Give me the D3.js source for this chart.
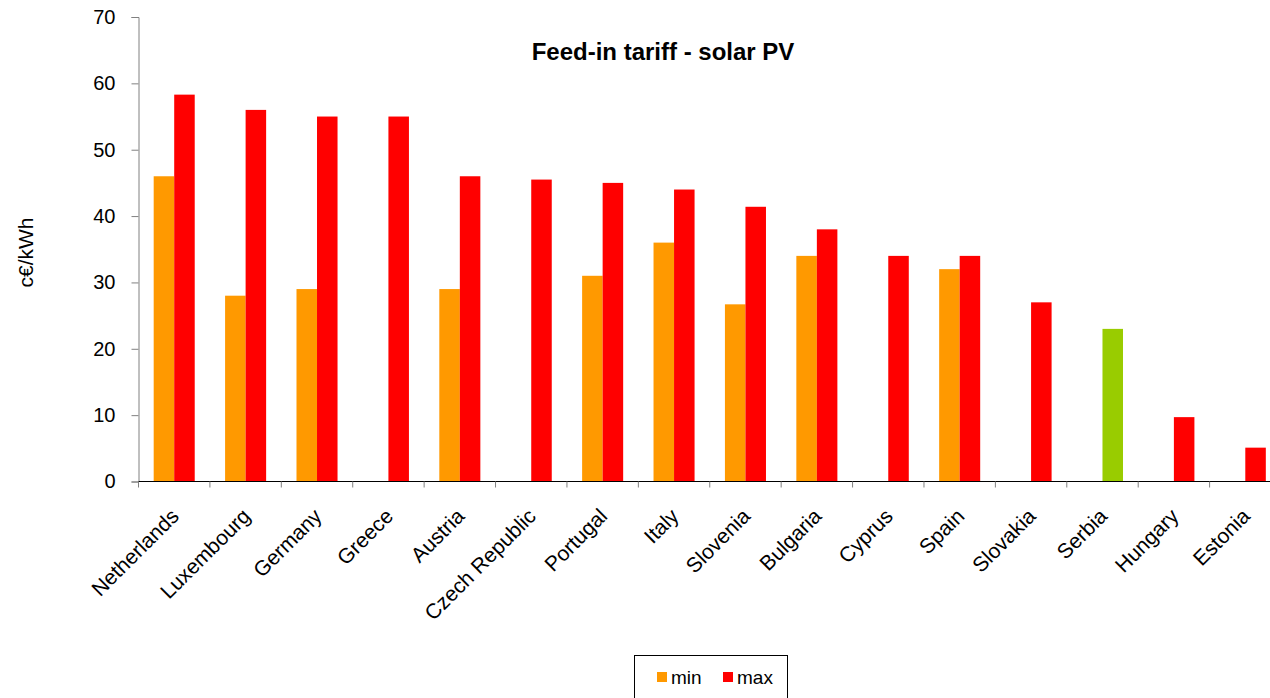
<!DOCTYPE html>
<html>
<head>
<meta charset="utf-8">
<script src="https://cdn.jsdelivr.net/npm/d3@7"></script>
<style>
  body { margin: 0; background: #fff; }
  svg { display: block; font-family: Arial, "Liberation Sans", sans-serif; }
</style>
</head>
<body>
<svg id="chart"></svg>
<script>
const countries = ["Netherlands", "Luxembourg", "Germany", "Greece", "Austria", "Czech Republic",
  "Portugal", "Italy", "Slovenia", "Bulgaria", "Cyprus", "Spain", "Slovakia", "Serbia", "Hungary", "Estonia"];
const minValues = [46, 28, 29, null, 29, null, 31, 36, 26.7, 34, null, 32, null, null, null, null];
const maxValues = [58.3, 56, 55, 55, 46, 45.5, 45, 44, 41.4, 38, 34, 34, 27, 23, 9.7, 5.1];
const yTicks = [0, 10, 20, 30, 40, 50, 60, 70];
const seriesNames = ["min", "max"];
const highlight = "Serbia";

const W = 1270, H = 698;
const svg = d3.select("#chart").attr("width", W).attr("height", H);

const colors = { min: "#FF9900", max: "#FF0000", highlight: "#99CC00" };

const x = d3.scaleBand().domain(countries).range([138.5, 1281]);
const x1 = d3.scaleBand().domain(seriesNames).range([0, x.bandwidth()]).paddingOuter(0.74);
const y = d3.scaleLinear().domain([0, 70]).range([481.5, 17]);

const rows = countries.map((c, i) => ({ country: c, min: minValues[i], max: maxValues[i] }));

// bars
const groups = svg.append("g").selectAll("g")
  .data(rows)
  .join("g")
  .attr("transform", d => `translate(${x(d.country)},0)`);

groups.selectAll("rect")
  .data(d => seriesNames.filter(k => d[k] != null).map(k => ({ key: k, value: d[k], country: d.country })))
  .join("rect")
  .attr("x", d => x1(d.key))
  .attr("width", x1.bandwidth())
  .attr("y", d => y(d.value))
  .attr("height", d => y(0) - y(d.value))
  .attr("fill", d => d.country === highlight ? colors.highlight : colors[d.key]);

// y axis
const yAxis = svg.append("g")
  .attr("transform", "translate(138.5,0)")
  .call(d3.axisLeft(y).tickValues(yTicks).tickSize(7).tickPadding(16));
yAxis.select(".domain").attr("stroke", "#808080");
yAxis.selectAll(".tick line").attr("stroke", "#808080");
yAxis.selectAll("text").attr("font-size", "20px").attr("fill", "#000").attr("font-family", "Arial, 'Liberation Sans', sans-serif");

// x axis: ticks on band boundaries
const xAxis = svg.append("g").attr("transform", `translate(0,${y(0)})`);
xAxis.append("line")
  .attr("x1", x.range()[0]).attr("x2", x.range()[1])
  .attr("stroke", "#000");
xAxis.selectAll("line.tk")
  .data(countries)
  .join("line")
  .attr("class", "tk")
  .attr("x1", d => x(d)).attr("x2", d => x(d))
  .attr("y1", 0).attr("y2", 6)
  .attr("stroke", "#808080");
xAxis.selectAll("text")
  .data(countries)
  .join("text")
  .attr("transform", d => `translate(${x(d) + x.bandwidth() / 2 + 6},${36}) rotate(-45)`)
  .attr("text-anchor", "end")
  .attr("font-size", "21px")
  .attr("fill", "#000")
  .text(d => d);

// y label
svg.append("text")
  .attr("transform", "translate(33,252.5) rotate(-90)")
  .attr("text-anchor", "middle")
  .attr("font-size", "21px")
  .text("c€/kWh");

// title
svg.append("text")
  .attr("x", 663).attr("y", 60)
  .attr("text-anchor", "middle")
  .attr("font-size", "24px")
  .attr("font-weight", "bold")
  .text("Feed-in tariff - solar PV");

// legend
const legend = svg.append("g");
legend.append("rect")
  .attr("x", 634.5).attr("y", 655.5)
  .attr("width", 153).attr("height", 50)
  .attr("fill", "#fff").attr("stroke", "#000");
const legendX = { min: 657, max: 723 };
seriesNames.forEach(k => {
  legend.append("rect")
    .attr("x", legendX[k]).attr("y", 672)
    .attr("width", 10).attr("height", 10)
    .attr("fill", colors[k]);
  legend.append("text")
    .attr("x", legendX[k] + 14).attr("y", 684)
    .attr("font-size", "19px")
    .text(k);
});
</script>
</body>
</html>
